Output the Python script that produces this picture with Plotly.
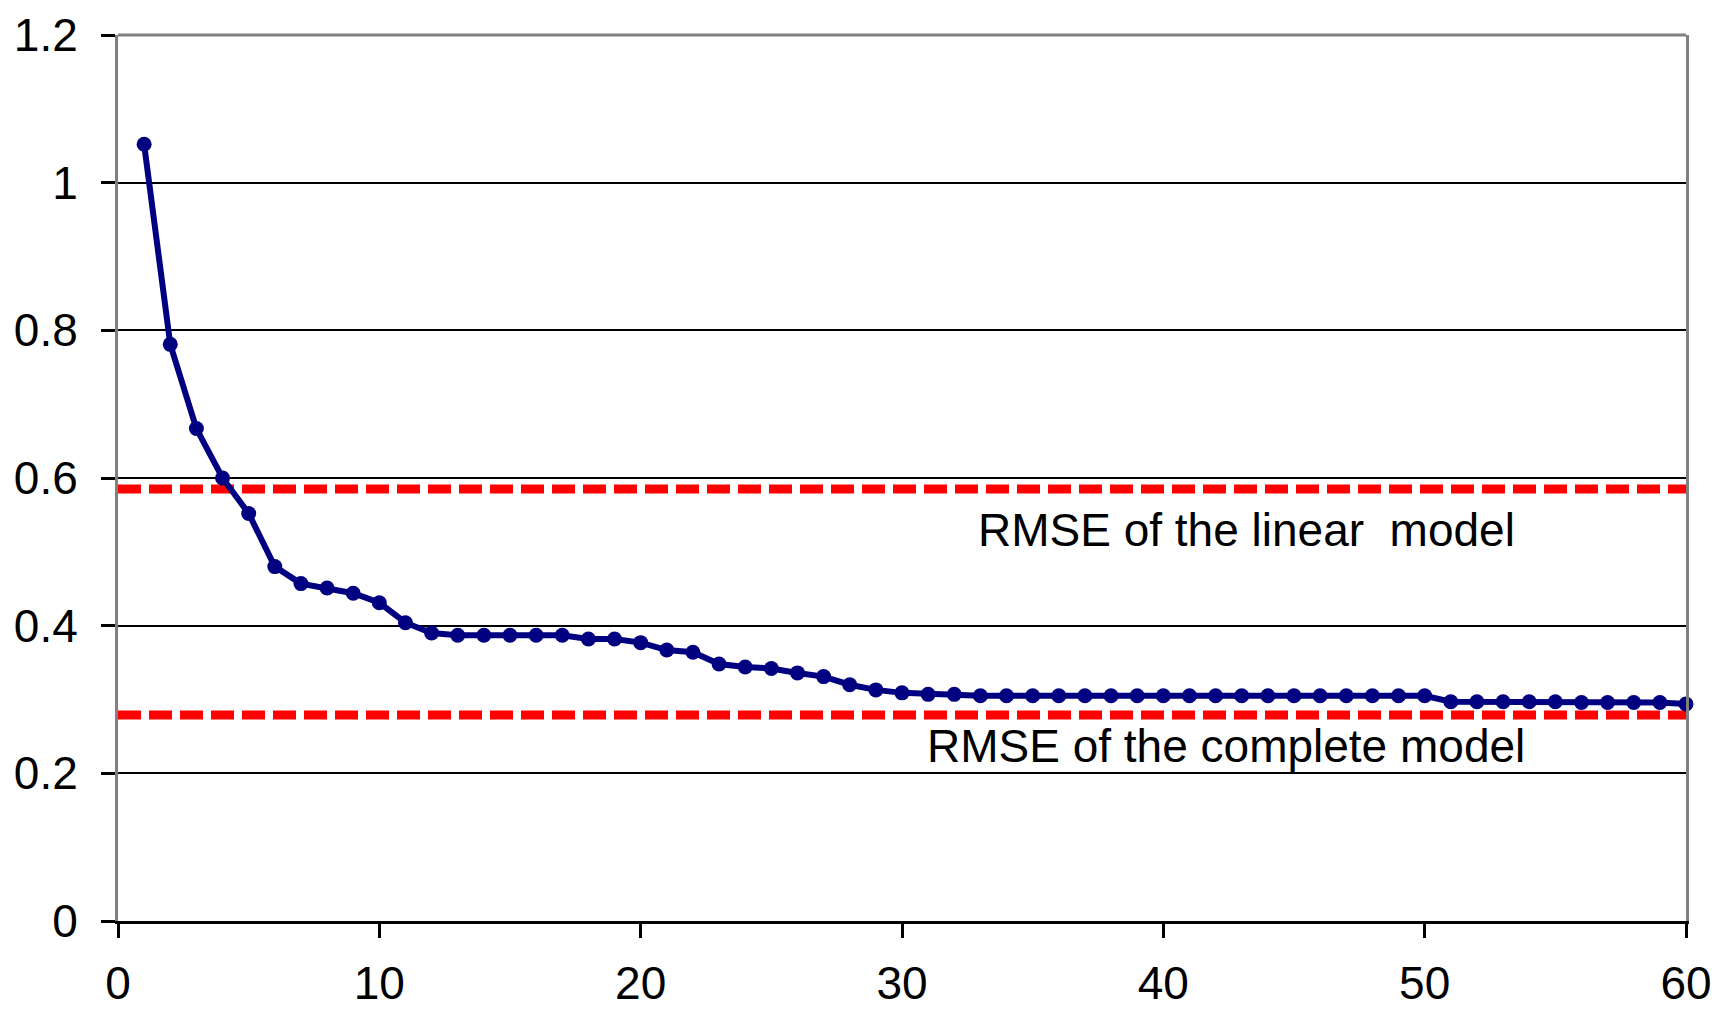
import plotly.graph_objects as go

# Number of components retained vs. cross-validated RMSE
n_components = list(range(1, 61))
rmse = [
    1.052, 0.781, 0.667, 0.600, 0.552, 0.480, 0.457, 0.451, 0.444, 0.431,
    0.404, 0.390, 0.387, 0.387, 0.387, 0.387, 0.387, 0.382, 0.382, 0.377,
    0.367, 0.364, 0.348, 0.344, 0.342, 0.336, 0.331, 0.320, 0.313, 0.309,
    0.307, 0.307, 0.305, 0.305, 0.305, 0.305, 0.305, 0.305, 0.305, 0.305,
    0.305, 0.305, 0.305, 0.305, 0.305, 0.305, 0.305, 0.305, 0.305, 0.305,
    0.297, 0.297, 0.297, 0.297, 0.297, 0.296, 0.296, 0.296, 0.296, 0.294,
]

# Reference levels
rmse_linear = 0.585
rmse_complete = 0.279
ref_x = [0, 60]

label_linear = "RMSE of the linear  model"
label_complete = "RMSE of the complete model"

y_ticks = [0, 0.2, 0.4, 0.6, 0.8, 1.0, 1.2]
y_tick_text = ["0", "0.2", "0.4", "0.6", "0.8", "1", "1.2"]
x_ticks = [0, 10, 20, 30, 40, 50, 60]

FONT = "Arial, Liberation Sans, sans-serif"
NAVY = "#000080"
RED = "#FF0000"

fig = go.Figure()

for level in (rmse_linear, rmse_complete):
    fig.add_trace(go.Scatter(
        x=ref_x, y=[level, level], mode="lines",
        line=dict(color=RED, width=9, dash="23px,8px"),
        hoverinfo="skip", showlegend=False, cliponaxis=False,
    ))

fig.add_trace(go.Scatter(
    x=n_components, y=rmse, mode="lines+markers",
    line=dict(color=NAVY, width=6),
    marker=dict(color=NAVY, size=15),
    showlegend=False, cliponaxis=False,
))

fig.add_annotation(x=43.2, y=0.530, xref="x", yref="y", text=label_linear,
                   showarrow=False, xanchor="center", yanchor="middle",
                   font=dict(family=FONT, size=46, color="black"))
fig.add_annotation(x=42.4, y=0.237, xref="x", yref="y", text=label_complete,
                   showarrow=False, xanchor="center", yanchor="middle",
                   font=dict(family=FONT, size=46, color="black"))

# Grey frame on the top edge of the plot area
fig.add_shape(type="line", xref="paper", yref="paper", x0=0, x1=1, y0=1, y1=1,
              line=dict(color="#808080", width=3), layer="above")

fig.update_layout(
    width=1716, height=1010,
    margin=dict(l=118, r=30, t=35, b=89, autoexpand=False),
    paper_bgcolor="white", plot_bgcolor="white",
    font=dict(family=FONT, size=46, color="black"),
    xaxis=dict(
        range=[0, 60], tickvals=x_ticks, showgrid=False, zeroline=False,
        showline=True, linecolor="black", linewidth=3,
        ticks="outside", ticklen=14, tickwidth=3, tickcolor="black",
        ticklabelstandoff=6, automargin=False,
    ),
    yaxis=dict(
        range=[0, 1.2], tickvals=y_ticks, ticktext=y_tick_text,
        showgrid=True, gridcolor="black", gridwidth=2, zeroline=False,
        showline=True, linecolor="#808080", linewidth=3, mirror=True,
        ticks="outside", ticklen=14, tickwidth=3, tickcolor="black",
        ticklabelstandoff=14, automargin=False,
    ),
)

fig.write_html("out.html")
